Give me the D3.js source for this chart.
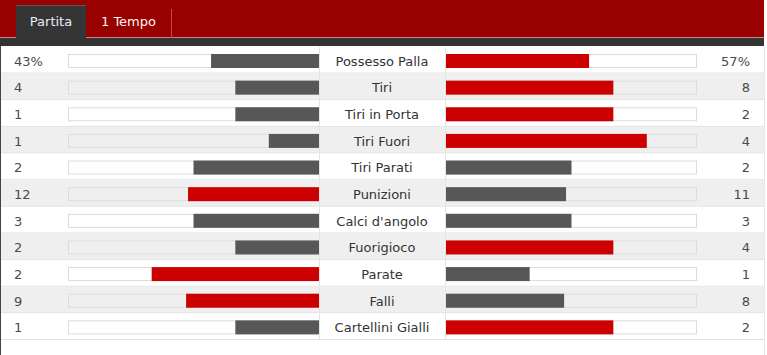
<!DOCTYPE html>
<html>
<head>
<meta charset="utf-8">
<script src="https://cdn.jsdelivr.net/npm/d3@7"></script>
<style>
  body { margin: 0; background: #fff; }
  svg text { font-family: "DejaVu Sans", Verdana, sans-serif; }
</style>
</head>
<body>
<div id="stats"></div>
<script>
// match stats, home (left) vs away (right)
var labels = ["Possesso Palla", "Tiri", "Tiri in Porta", "Tiri Fuori", "Tiri Parati", "Punizioni",
              "Calci d'angolo", "Fuorigioco", "Parate", "Falli", "Cartellini Gialli"];
var homeValues = [43, 4, 1, 1, 2, 12, 3, 2, 2, 9, 1];
var awayValues = [57, 8, 2, 4, 2, 11, 3, 4, 1, 8, 2];
var percentRows = ["Possesso Palla"];
var tabs = ["Partita", "1 Tempo"];

var W = 767, H = 355;
var svg = d3.select("#stats").append("svg")
    .attr("width", W)
    .attr("height", H);

var red = "#cc0000", grey = "#575757";

//header band + tabs
svg.append("rect").attr("x", 0).attr("y", 0).attr("width", 764).attr("height", 38).attr("fill", "#990000");
svg.append("rect").attr("x", 0).attr("y", 37).attr("width", 764).attr("height", 1).attr("fill", "#c98a8a");
svg.append("rect").attr("x", 0).attr("y", 38).attr("width", 764).attr("height", 8).attr("fill", "#333333");

var tabX = d3.scaleOrdinal().domain(tabs).range([16, 86]);
var tabW = d3.scaleOrdinal().domain(tabs).range([70, 85]);

svg.append("rect").attr("x", tabX("Partita")).attr("y", 5).attr("width", tabW("Partita")).attr("height", 34)
    .attr("fill", "#353535");
svg.append("rect").attr("x", tabX("Partita")).attr("y", 5).attr("width", tabW("Partita")).attr("height", 1)
    .attr("fill", "#555");
svg.append("rect").attr("x", 171).attr("y", 9).attr("width", 1).attr("height", 29).attr("fill", "#c24a4a");

svg.selectAll("text.tab").data(tabs).enter().append("text")
    .attr("class", "tab")
    .attr("x", function (d) { return tabX(d) + tabW(d) / 2; })
    .attr("y", 26)
    .attr("text-anchor", "middle")
    .attr("font-size", 13)
    .attr("fill", function (d, i) { return i == 0 ? "#e6eef6" : "#fff4ee"; })
    .text(function (d) { return d; });

//table
var rows = labels.map(function (d, i) {
    return {label: d, home: homeValues[i], away: awayValues[i]};
});

var y = d3.scaleBand().domain(labels).range([47, 340]);
var trackW = 251;
var share = d3.scaleLinear().domain([0, 1]).range([0, trackW]);
var leftEnd = 319, rightStart = 446;

var g = svg.selectAll("g.row").data(rows).enter().append("g")
    .attr("class", "row")
    .attr("transform", function (d) { return "translate(0," + y(d.label) + ")"; });

var bh = y.bandwidth();

g.append("rect")
    .attr("x", 1).attr("y", 0).attr("width", 763).attr("height", bh)
    .attr("fill", function (d, i) { return i % 2 ? "#efefef" : "#ffffff"; });
g.append("rect")
    .attr("x", 1).attr("y", bh - 1).attr("width", 763).attr("height", 1)
    .attr("fill", "#e2e2e2");
// cell borders around the label column
g.append("rect").attr("x", 319).attr("y", 0).attr("width", 1).attr("height", bh).attr("fill", "#e4e4e4");
g.append("rect").attr("x", 445).attr("y", 0).attr("width", 1).attr("height", bh).attr("fill", "#e4e4e4");

// tracks
[leftEnd - trackW, rightStart].forEach(function (tx) {
    g.append("rect")
        .attr("x", tx + 0.5).attr("y", 7.5)
        .attr("width", trackW - 1).attr("height", 13)
        .attr("fill", function (d, i) { return i % 2 ? "#efefef" : "#ffffff"; })
        .attr("stroke", "#dcdcdc");
});

function colour(a, b) { return a > b ? red : grey; }

g.append("rect")
    .attr("x", function (d) { return leftEnd - share(d.home / (d.home + d.away)); })
    .attr("y", 7)
    .attr("width", function (d) { return share(d.home / (d.home + d.away)); })
    .attr("height", 14)
    .attr("fill", function (d) { return colour(d.home, d.away); });

g.append("rect")
    .attr("x", rightStart)
    .attr("y", 7)
    .attr("width", function (d) { return share(d.away / (d.home + d.away)); })
    .attr("height", 14)
    .attr("fill", function (d) { return colour(d.away, d.home); });

function fmt(d, v) { return percentRows.indexOf(d.label) >= 0 ? v + "%" : v; }

g.append("text")
    .attr("x", 14).attr("y", bh / 2 + 5.5)
    .attr("font-size", 13).attr("fill", "#4a4a4a")
    .text(function (d) { return fmt(d, d.home); });

g.append("text")
    .attr("x", 750).attr("y", bh / 2 + 5.5)
    .attr("text-anchor", "end")
    .attr("font-size", 13).attr("fill", "#4a4a4a")
    .text(function (d) { return fmt(d, d.away); });

g.append("text")
    .attr("x", 382).attr("y", bh / 2 + 5.5)
    .attr("text-anchor", "middle")
    .attr("font-size", 13).attr("fill", "#333")
    .text(function (d) { return d.label; });

// outer borders
svg.append("rect").attr("x", 0).attr("y", 46).attr("width", 1).attr("height", H - 46).attr("fill", "#444");
svg.append("rect").attr("x", 764).attr("y", 46).attr("width", 1).attr("height", H - 46).attr("fill", "#e6e6e6");
</script>
</body>
</html>
